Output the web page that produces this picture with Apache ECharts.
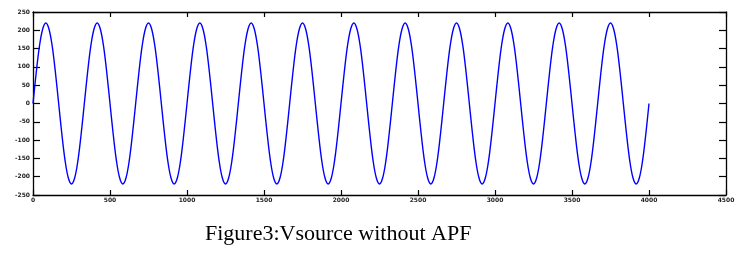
<!DOCTYPE html>
<html>
<head>
<meta charset="utf-8">
<script src="https://cdn.jsdelivr.net/npm/echarts@6/dist/echarts.min.js"></script>
<style>
html,body{margin:0;padding:0;background:#fff;}
#chart{width:749px;height:258px;}
</style>
</head>
<body>
<div id="chart"></div>
<script>
// Sample spacing along x (16 samples per cycle, 12 cycles over 0..4000)
var sampleStep = 4000 / 192;
// Vsource values (peak ~220)
var vsource = [
0,84,156,203,220,203,156,84,0,-84,-156,-203,-220,-203,-156,-84,
0,84,156,203,220,203,156,84,0,-84,-156,-203,-220,-203,-156,-84,
0,84,156,203,220,203,156,84,0,-84,-156,-203,-220,-203,-156,-84,
0,84,156,203,220,203,156,84,0,-84,-156,-203,-220,-203,-156,-84,
0,84,156,203,220,203,156,84,0,-84,-156,-203,-220,-203,-156,-84,
0,84,156,203,220,203,156,84,0,-84,-156,-203,-220,-203,-156,-84,
0,84,156,203,220,203,156,84,0,-84,-156,-203,-220,-203,-156,-84,
0,84,156,203,220,203,156,84,0,-84,-156,-203,-220,-203,-156,-84,
0,84,156,203,220,203,156,84,0,-84,-156,-203,-220,-203,-156,-84,
0,84,156,203,220,203,156,84,0,-84,-156,-203,-220,-203,-156,-84,
0,84,156,203,220,203,156,84,0,-84,-156,-203,-220,-203,-156,-84,
0,84,156,203,220,203,156,84,0,-84,-156,-203,-220,-203,-156,-84,
0
];
var xTicks = [0,500,1000,1500,2000,2500,3000,3500,4000,4500];
var yTicks = [-250,-200,-150,-100,-50,0,50,100,150,200,250];
var captionText = 'Figure3:Vsource without APF';

var seriesData = vsource.map(function(v, i){ return [i * sampleStep, v]; });

var chart = echarts.init(document.getElementById('chart'), null, {renderer:'canvas'});
var axisLineStyle = {color:'#000', width:1.3};
var labelStyle = {fontSize:6, fontFamily:'DejaVu Sans', fontWeight:'bold', color:'#222',
  formatter:function(v){ return String(v); }};
function baseX(pos, showLabel){
  return {
    type:'value', position:pos, min:xTicks[0], max:xTicks[xTicks.length-1], interval:500,
    axisLine:{show:true, onZero:false, lineStyle:axisLineStyle},
    axisTick:{show:true, inside:true, length:5, lineStyle:{color:'#000', width:1.2}},
    axisLabel:Object.assign({show:showLabel, margin:2}, labelStyle),
    splitLine:{show:false}
  };
}
function baseY(pos, showLabel){
  return {
    type:'value', position:pos, min:yTicks[0], max:yTicks[yTicks.length-1], interval:50,
    axisLine:{show:true, onZero:false, lineStyle:axisLineStyle},
    axisTick:{show:true, inside:true, length:7, lineStyle:{color:'#000', width:1.2}},
    axisLabel:Object.assign({show:showLabel, margin:3}, labelStyle),
    splitLine:{show:false}
  };
}
chart.setOption({
  animation:false,
  backgroundColor:'#fff',
  grid:{left:33, right:23, top:12, bottom:63, containLabel:false},
  xAxis:[baseX('bottom', true), baseX('top', false)],
  yAxis:[baseY('left', true), baseY('right', false)],
  series:[{
    type:'line', xAxisIndex:0, yAxisIndex:0,
    data:seriesData, smooth:0.35, showSymbol:false, symbol:'none',
    lineStyle:{color:'#0000ff', width:1.4}
  }],
  graphic:[{
    type:'text', left:205, top:223,
    style:{text:captionText, font:'22px "Liberation Serif"', fill:'#000'}
  }]
});
</script>
</body>
</html>
